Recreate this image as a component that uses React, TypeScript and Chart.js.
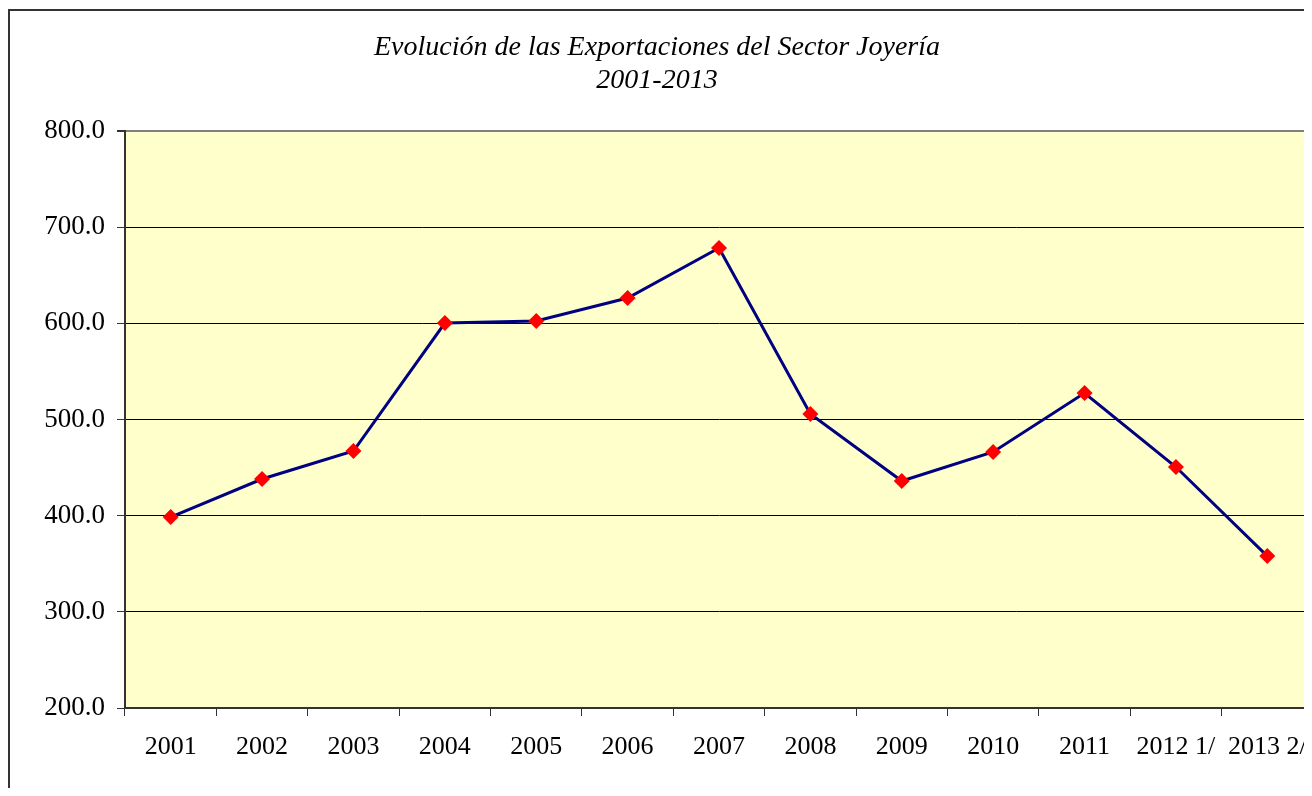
import React, { useEffect, useRef } from "react";
import { Chart, registerables } from "chart.js";

Chart.register(...registerables);

const categories = ["2001", "2002", "2003", "2004", "2005", "2006", "2007", "2008", "2009", "2010", "2011", "2012 1/", "2013 2/"];
const exportValues = [398.6, 438.1, 467.2, 600.3, 602.4, 626.3, 678.3, 505.7, 436.0, 466.2, 527.5, 450.6, 358.0];
const titleLines = ["Evolución de las Exportaciones del Sector Joyería", "2001-2013"];
const yMin = 200;
const yMax = 800;
const yStep = 100;

const SERIF = "'Liberation Serif', 'Times New Roman', Times, serif";
const CW = 1330;
const CH = 785;

export default function App() {
  const ref = useRef<HTMLCanvasElement | null>(null);

  useEffect(() => {
    const canvas = ref.current;
    if (!canvas) return;

    const bgPlugin = {
      id: "plotBg",
      beforeDraw(chart: any) {
        const { ctx, chartArea } = chart;
        ctx.save();
        ctx.fillStyle = "#FFFFCC";
        ctx.fillRect(chartArea.left, chartArea.top, chartArea.right - chartArea.left, chartArea.bottom - chartArea.top);
        ctx.restore();
      },
    };

    const titlePlugin = {
      id: "italicTitle",
      afterDraw(chart: any) {
        const { ctx } = chart;
        ctx.save();
        ctx.fillStyle = "#000";
        ctx.font = `italic 28px ${SERIF}`;
        ctx.textAlign = "center";
        ctx.textBaseline = "middle";
        titleLines.forEach((t, i) => ctx.fillText(t, 647, 37 + i * 33));
        ctx.restore();
      },
    };

    const chart = new Chart(canvas, {
      type: "line",
      data: {
        labels: categories,
        datasets: [
          {
            label: "Exportaciones",
            data: exportValues,
            borderColor: "#000080",
            borderWidth: 3,
            backgroundColor: "#FF0000",
            pointBackgroundColor: "#FF0000",
            pointBorderColor: "#FF0000",
            pointStyle: "rectRot",
            pointRadius: 8,
            pointBorderWidth: 0,
            tension: 0,
            fill: false,
          },
        ],
      },
      options: {
        animation: false,
        responsive: false,
        layout: { padding: { top: 120, right: 27, left: 0, bottom: 0 } },
        plugins: {
          legend: { display: false },
          title: { display: false },
          tooltip: { enabled: false },
        },
        scales: {
          x: {
            offset: true,
            afterFit(scale: any) {
              scale.height = 88;
            },
            grid: {
              offset: true,
              drawOnChartArea: false,
              drawTicks: true,
              tickLength: 8,
              tickColor: "#333",
              lineWidth: 1,
            },
            border: { display: true, color: "#333", width: 2 },
            ticks: {
              color: "#000",
              font: { family: SERIF, size: 26 },
              padding: 16,
              maxRotation: 0,
              autoSkip: false,
            },
          },
          y: {
            min: yMin,
            max: yMax,
            afterFit(scale: any) {
              scale.width = 115;
            },
            grid: {
              drawOnChartArea: true,
              drawTicks: true,
              tickLength: 8,
              tickColor: "#333",
              color: (c: any) => (c.tick && c.tick.value === yMax ? "#808080" : "#000"),
              lineWidth: (c: any) => (c.tick && c.tick.value === yMax ? 2 : 1),
            },
            border: { display: true, color: "#333", width: 2 },
            ticks: {
              stepSize: yStep,
              color: "#000",
              font: { family: SERIF, size: 27 },
              padding: 12,
              callback: (v: any) => Number(v).toFixed(1),
            },
          },
        },
      },
      plugins: [bgPlugin, titlePlugin],
    });

    return () => chart.destroy();
  }, []);

  return (
    <div style={{ position: "relative" }}>
      <div
        style={{
          position: "absolute",
          top: -17,
          left: 12,
          color: "#0000FF",
          font: "bold 16px Arial, 'Liberation Sans', sans-serif",
          whiteSpace: "nowrap",
          zIndex: 2,
        }}
      >
        Gráfico No. 19
      </div>
      <div style={{ position: "relative", width: 1304, height: 788, marginBottom: -8, overflow: "hidden" }}>
        <div
          style={{
            position: "absolute",
            top: 1,
            left: 0,
            width: 1400,
            height: 900,
            borderLeft: "2px solid #333",
            borderTop: "2px solid #333",
          }}
        />
        <canvas
          ref={ref}
          width={CW}
          height={CH}
          style={{ position: "absolute", left: 2, top: 3, width: CW, height: CH }}
        />
      </div>
    </div>
  );
}
